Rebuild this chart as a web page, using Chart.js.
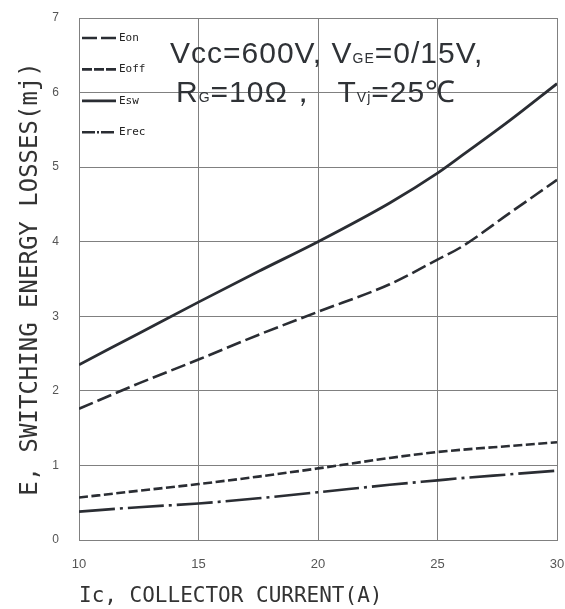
<!DOCTYPE html>
<html>
<head>
  <title>Switching Energy Losses</title>
  <script src="https://cdn.jsdelivr.net/npm/chart.js"></script>
  <style>
    body { margin: 0; background: #fff; }
  </style>
</head>
<body>
  <canvas id="lossChart" width="565" height="609"></canvas>

  <script>
    // values (mJ) at these collector currents (A)
    const currentA = [10, 12.5, 15, 17.5, 20, 23, 25, 26, 28, 30];
    const eon  = [1.76, 2.10, 2.42, 2.75, 3.06, 3.43, 3.76, 3.93, 4.38, 4.83];
    const eoff = [0.57, 0.66, 0.75, 0.85, 0.96, 1.10, 1.18, 1.21, 1.26, 1.31];
    const esw  = [2.35, 2.77, 3.19, 3.60, 4.00, 4.52, 4.92, 5.15, 5.62, 6.12];
    const erec = [0.38, 0.44, 0.49, 0.56, 0.64, 0.74, 0.80, 0.83, 0.88, 0.93];

    const xTicks = [10, 15, 20, 25, 30];
    const yTicks = [0, 1, 2, 3, 4, 5, 6, 7];

    // test conditions, [text, isSubscript]
    const condLine1 = [['Vcc=600V, V', false], ['GE', true], ['=0/15V,', false]];
    const condLine2 = [['R', false], ['G', true], ['=10Ω，  T', false], ['Vj', true], ['=25℃', false]];

    const ink = '#2a2d33';
    const gridGrey = '#808080';

    function pts(ys) {
      return currentA.map((x, i) => ({ x: x, y: ys[i] }));
    }

    function drawRuns(ctx, runs, x, y) {
      runs.forEach(r => {
        ctx.font = r[1] ? '14px "Liberation Sans"' : '30px "Liberation Sans"';
        ctx.fillText(r[0], x, y);
        x += ctx.measureText(r[0]).width;
      });
    }

    // no extra room for tick labels, the layout padding sets the plot box
    function noPad(s) {
      s.paddingTop = 0;
      s.paddingBottom = 0;
      s.paddingLeft = 0;
      s.paddingRight = 0;
    }

    // legend box and the condition text sit inside the plot
    const overlay = {
      id: 'overlay',
      afterDatasetsDraw(chart) {
        const ctx = chart.ctx;
        const a = chart.chartArea;
        ctx.save();
        chart.data.datasets.forEach((ds, i) => {
          const y = a.top + 20 + i * 31.4;
          ctx.beginPath();
          ctx.setLineDash(ds.legendDash);
          ctx.lineWidth = ds.borderWidth;
          ctx.strokeStyle = ds.borderColor;
          ctx.moveTo(a.left + 3, y);
          ctx.lineTo(a.left + 37, y);
          ctx.stroke();
          ctx.setLineDash([]);
          ctx.fillStyle = '#222';
          ctx.font = '11px "DejaVu Sans Mono"';
          ctx.textBaseline = 'middle';
          ctx.fillText(ds.label, a.left + 40, y);
        });

        ctx.fillStyle = '#2f3236';
        ctx.textBaseline = 'alphabetic';
        ctx.letterSpacing = '1px';
        drawRuns(ctx, condLine1, 170, 63);
        drawRuns(ctx, condLine2, 176, 102);
        ctx.restore();
      }
    };

    const ctx = document.getElementById('lossChart').getContext('2d');
    const chart = new Chart(ctx, {
      type: 'line',
      data: {
        datasets: [
          { label: 'Eon',  data: pts(eon),  borderColor: ink, borderWidth: 2.6, borderDash: [15, 5], legendDash: [15, 4] },
          { label: 'Eoff', data: pts(eoff), borderColor: ink, borderWidth: 2.6, borderDash: [9, 3.5], legendDash: [10, 2] },
          { label: 'Esw',  data: pts(esw),  borderColor: ink, borderWidth: 2.8, borderDash: [], legendDash: [] },
          { label: 'Erec', data: pts(erec), borderColor: ink, borderWidth: 2.6, borderDash: [36, 5, 3, 5], legendDash: [13, 2, 2, 2] }
        ]
      },
      options: {
        responsive: false,
        animation: false,
        layout: { padding: { top: 18, right: 8, left: 0, bottom: 0 } },
        elements: {
          point: { radius: 0 },
          line: { cubicInterpolationMode: 'monotone', fill: false }
        },
        plugins: {
          legend: { display: false },
          tooltip: { enabled: false }
        },
        scales: {
          x: {
            type: 'linear',
            min: 10,
            max: 30,
            afterBuildTicks: s => { s.ticks = xTicks.map(v => ({ value: v })); },
            afterFit: s => { s.height = 69; noPad(s); },
            grid: { color: gridGrey, lineWidth: 1, drawTicks: false },
            border: { color: gridGrey, width: 1 },
            ticks: {
              padding: 17,
              color: '#555',
              font: { family: 'Liberation Sans', size: 13 }
            },
            title: {
              display: true,
              text: 'Ic, COLLECTOR CURRENT(A)',
              align: 'start',
              color: '#333',
              font: { family: 'DejaVu Sans Mono', size: 21 },
              padding: { top: 0, bottom: 0 }
            }
          },
          y: {
            min: 0,
            max: 7,
            afterBuildTicks: s => { s.ticks = yTicks.map(v => ({ value: v })); },
            afterFit: s => { s.width = 79; noPad(s); },
            grid: { color: gridGrey, lineWidth: 1, drawTicks: false },
            border: { color: gridGrey, width: 1 },
            ticks: {
              padding: 20,
              color: '#555',
              font: { family: 'Liberation Sans', size: 12 }
            },
            title: {
              display: true,
              text: 'E, SWITCHING ENERGY LOSSES(mj)',
              color: '#333',
              font: { family: 'DejaVu Sans Mono', size: 24 },
              padding: { top: 16, bottom: 0 }
            }
          }
        }
      },
      plugins: [overlay]
    });
  </script>
</body>
</html>
